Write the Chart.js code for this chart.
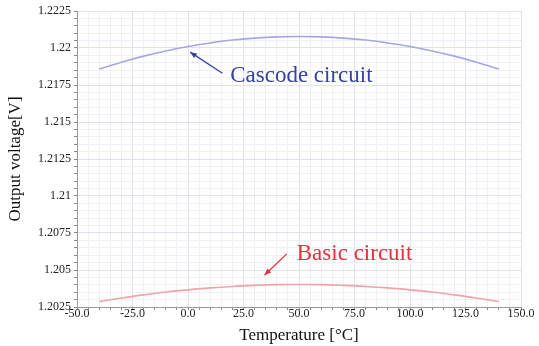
<!DOCTYPE html>
<html>
<head>
<meta charset="utf-8">
<script src="https://cdn.jsdelivr.net/npm/chart.js@4.4.1/dist/chart.umd.min.js"></script>
<style>
    html, body { margin: 0; padding: 0; background: #fff; }
    #box { width: 539px; height: 346px; position: relative; }
</style>
</head>
<body>
<div id="box"><canvas id="lineChart"></canvas></div>
<script>
// temperatures [°C]
var temperaturas = [-40, -30, -20, -10, 0, 10, 20, 30, 40, 50, 60, 70, 80, 90, 100, 110, 120, 130, 140];
// output voltage [V]
var cascode = [1.21858, 1.21904, 1.21945, 1.21980, 1.22010, 1.22034, 1.22054, 1.22067, 1.22075, 1.22078,
               1.22075, 1.22067, 1.22054, 1.22034, 1.22010, 1.21980, 1.21945, 1.21904, 1.21858];
var basico = [1.20287, 1.20311, 1.20332, 1.20351, 1.20366, 1.20379, 1.20389, 1.20396, 1.20401, 1.20402,
              1.20401, 1.20396, 1.20389, 1.20379, 1.20366, 1.20351, 1.20332, 1.20311, 1.20287];
var nombres = ['Cascode circuit', 'Basic circuit'];

// axis ranges (major ticks + minor grid)
var xRango = [-50, 150], xMayor = 25, xMenor = 5;
var yRango = [1.2025, 1.2225], yMayor = 0.0025, yMenor = 0.0005;

// callouts in data units: [text x, text y, arrow from x, from y, arrow to x, to y]
var notas = [
    { texto: nombres[0], color: '#37439f', pos: [19, 1.21767, 15.5, 1.21829, 1.0, 1.21972] },
    { texto: nombres[1], color: '#e6303a', pos: [49, 1.20567, 44.5, 1.20609, 34.5, 1.20466] }
];

var serif = "'Liberation Serif', 'Times New Roman', serif";

function esMayor(v, paso) {
    return Math.abs(Math.round(v / paso) * paso - v) < 1e-9;
}

function puntos(ys) {
    var out = [];
    for (var i = 0; i < temperaturas.length; i++) {
        out.push({ x: temperaturas[i], y: ys[i] });
    }
    return out;
}

var notasPlugin = {
    id: 'notas',
    afterDatasetsDraw: function (chart) {
        var ctx = chart.ctx;
        var sx = chart.scales.x, sy = chart.scales.y;
        notas.forEach(function (n) {
            var p = n.pos;
            var x0 = sx.getPixelForValue(p[2]), y0 = sy.getPixelForValue(p[3]);
            var x1 = sx.getPixelForValue(p[4]), y1 = sy.getPixelForValue(p[5]);
            ctx.save();
            ctx.strokeStyle = n.color;
            ctx.fillStyle = n.color;
            ctx.lineWidth = 1.3;
            ctx.beginPath();
            ctx.moveTo(x0, y0);
            ctx.lineTo(x1, y1);
            ctx.stroke();
            // arrow head
            var ang = Math.atan2(y1 - y0, x1 - x0);
            ctx.beginPath();
            ctx.moveTo(x1, y1);
            ctx.lineTo(x1 - 7 * Math.cos(ang - 0.4), y1 - 7 * Math.sin(ang - 0.4));
            ctx.lineTo(x1 - 7 * Math.cos(ang + 0.4), y1 - 7 * Math.sin(ang + 0.4));
            ctx.closePath();
            ctx.fill();
            ctx.font = '23px ' + serif;
            ctx.textAlign = 'left';
            ctx.textBaseline = 'alphabetic';
            ctx.fillText(n.texto, sx.getPixelForValue(p[0]), sy.getPixelForValue(p[1]));
            ctx.restore();
        });
    }
};

function loadChart() {
    var canvas = document.getElementById('lineChart').getContext('2d');
    new Chart(canvas, {
        type: 'line',
        data: {
            datasets: [
                {
                    label: nombres[0],
                    data: puntos(cascode),
                    borderColor: '#a7a7e2',
                    borderWidth: 1.6,
                    pointRadius: 0,
                    tension: 0.4
                },
                {
                    label: nombres[1],
                    data: puntos(basico),
                    borderColor: '#f2a3a6',
                    borderWidth: 1.6,
                    pointRadius: 0,
                    tension: 0.4
                }
            ]
        },
        options: {
            responsive: true,
            maintainAspectRatio: false,
            animation: false,
            layout: { padding: { top: 11, right: 18, left: 0, bottom: 0 } },
            plugins: {
                legend: { display: false },
                tooltip: { enabled: false }
            },
            scales: {
                x: {
                    type: 'linear',
                    min: xRango[0],
                    max: xRango[1],
                    afterFit: function (s) { s.height = 39; },
                    ticks: {
                        stepSize: xMenor,
                        autoSkip: false,
                        maxRotation: 0,
                        padding: -3,
                        color: '#222',
                        font: { family: serif, size: 12 },
                        callback: function (v) { return esMayor(v, xMayor) ? v.toFixed(1) : ''; }
                    },
                    grid: {
                        color: function (c) { return esMayor(c.tick.value, xMayor) ? '#dfe2ea' : '#eef0f4'; },
                        tickColor: '#888',
                        tickLength: 3
                    },
                    border: { color: '#999' },
                    title: {
                        display: true,
                        text: 'Temperature [°C]',
                        color: '#111',
                        font: { family: serif, size: 17 },
                        padding: { top: 4, bottom: 0 }
                    }
                },
                y: {
                    type: 'linear',
                    min: yRango[0],
                    max: yRango[1],
                    afterFit: function (s) { s.width = 77; },
                    ticks: {
                        stepSize: yMenor,
                        autoSkip: false,
                        padding: 3,
                        color: '#222',
                        font: { family: serif, size: 12 },
                        callback: function (v) { return esMayor(v, yMayor) ? String(Number(v.toFixed(4))) : ''; }
                    },
                    grid: {
                        color: function (c) { return esMayor(c.tick.value, yMayor) ? '#dfe2ea' : '#eef0f4'; },
                        tickColor: '#888',
                        tickLength: 3
                    },
                    border: { color: '#999' },
                    title: {
                        display: true,
                        text: 'Output voltage[V]',
                        color: '#111',
                        font: { family: serif, size: 17 },
                        padding: { top: 5, bottom: 4 }
                    }
                }
            }
        },
        plugins: [notasPlugin]
    });
}

loadChart();
</script>
</body>
</html>
